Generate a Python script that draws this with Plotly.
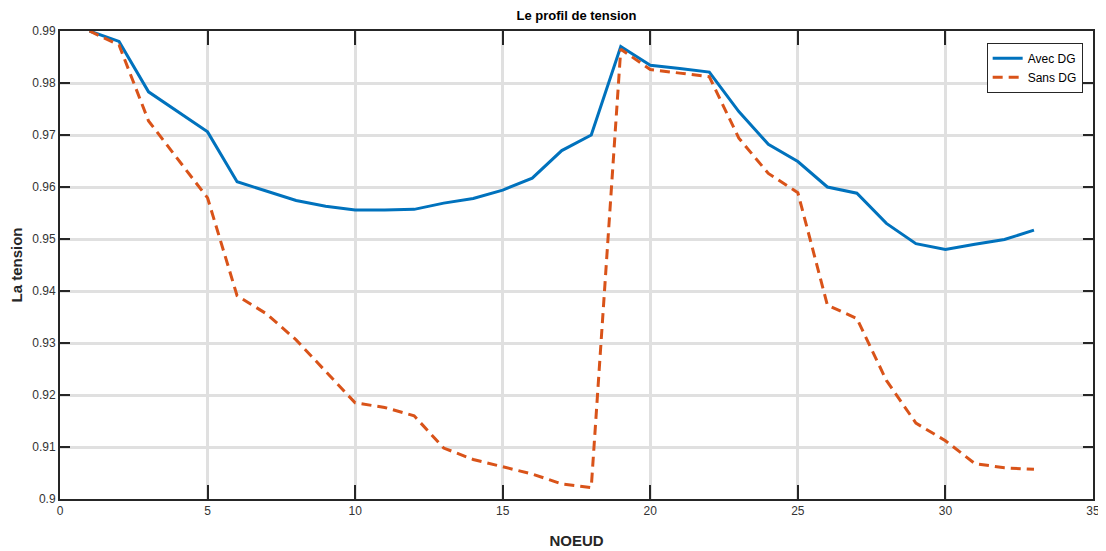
import plotly.graph_objects as go

noeuds = list(range(1, 34))
avec_dg = [0.990, 0.988, 0.9783, 0.9745, 0.9706, 0.9610, 0.9592, 0.9574, 0.9563, 0.9556,
           0.9556, 0.9557, 0.9569, 0.9578, 0.9594, 0.9617, 0.9670, 0.9700, 0.9870, 0.9834,
           0.9828, 0.9821, 0.9745, 0.9682, 0.9649, 0.9600, 0.9588, 0.9530, 0.9491, 0.9480,
           0.9490, 0.9499, 0.9517]
sans_dg = [0.990, 0.9873, 0.9727, 0.9654, 0.9579, 0.9391, 0.9356, 0.9306, 0.9246, 0.9185,
           0.9176, 0.9160, 0.9098, 0.9076, 0.9062, 0.9048, 0.9029, 0.9022, 0.9865, 0.9826,
           0.9819, 0.9812, 0.9694, 0.9626, 0.9589, 0.9373, 0.9347, 0.9228, 0.9146, 0.9112,
           0.9068, 0.9060, 0.9057]
x_ticks = [0, 5, 10, 15, 20, 25, 30, 35]
y_ticks = [0.90, 0.91, 0.92, 0.93, 0.94, 0.95, 0.96, 0.97, 0.98, 0.99]
y_ticklabels = ["0.9", "0.91", "0.92", "0.93", "0.94", "0.95", "0.96", "0.97", "0.98", "0.99"]

font = "Liberation Sans, Arial, sans-serif"

fig = go.Figure()
fig.add_trace(go.Scatter(x=noeuds, y=avec_dg, mode="lines", name="Avec DG",
                         line=dict(color="#0072BD", width=3)))
fig.add_trace(go.Scatter(x=noeuds, y=sans_dg, mode="lines", name="Sans DG",
                         line=dict(color="#D95319", width=3, dash="10px,6px")))

axis_common = dict(showline=True, linecolor="#262626", linewidth=2, mirror="ticks",
                   ticks="inside", tickcolor="#262626", tickwidth=2,
                   showgrid=True, gridcolor="#e0e0e0", gridwidth=3, zeroline=False,
                   automargin=False,
                   tickfont=dict(family=font, size=12, color="#333333"))

fig.update_xaxes(range=[0, 35], tickvals=x_ticks, ticklen=14, **axis_common,
                 title=dict(text="<b>NOEUD</b>", font=dict(family=font, size=15, color="#262626"),
                            standoff=18))
fig.update_yaxes(range=[0.90, 0.99], tickvals=y_ticks, ticktext=y_ticklabels, ticklen=10,
                 **axis_common,
                 title=dict(text="<b>La tension</b>", font=dict(family=font, size=15, color="#262626"),
                            standoff=14))

# the page body adds an 8px margin, so the figure is sized to fit the window
fig.update_layout(
    width=1098, height=543,
    margin=dict(l=52, r=13, t=23, b=52),
    paper_bgcolor="white", plot_bgcolor="white",
    title=dict(text="<b>Le profil de tension</b>", x=0.5, xref="paper", xanchor="center",
               y=0.986, yanchor="middle",
               font=dict(family=font, size=13, color="#000000")),
    legend=dict(x=0.99, y=0.975, xanchor="right", yanchor="top",
                bgcolor="white", bordercolor="#262626", borderwidth=1,
                font=dict(family=font, size=12, color="#000000"),
                tracegroupgap=0, itemwidth=30),
    showlegend=True,
)

fig.write_html("out.html")
